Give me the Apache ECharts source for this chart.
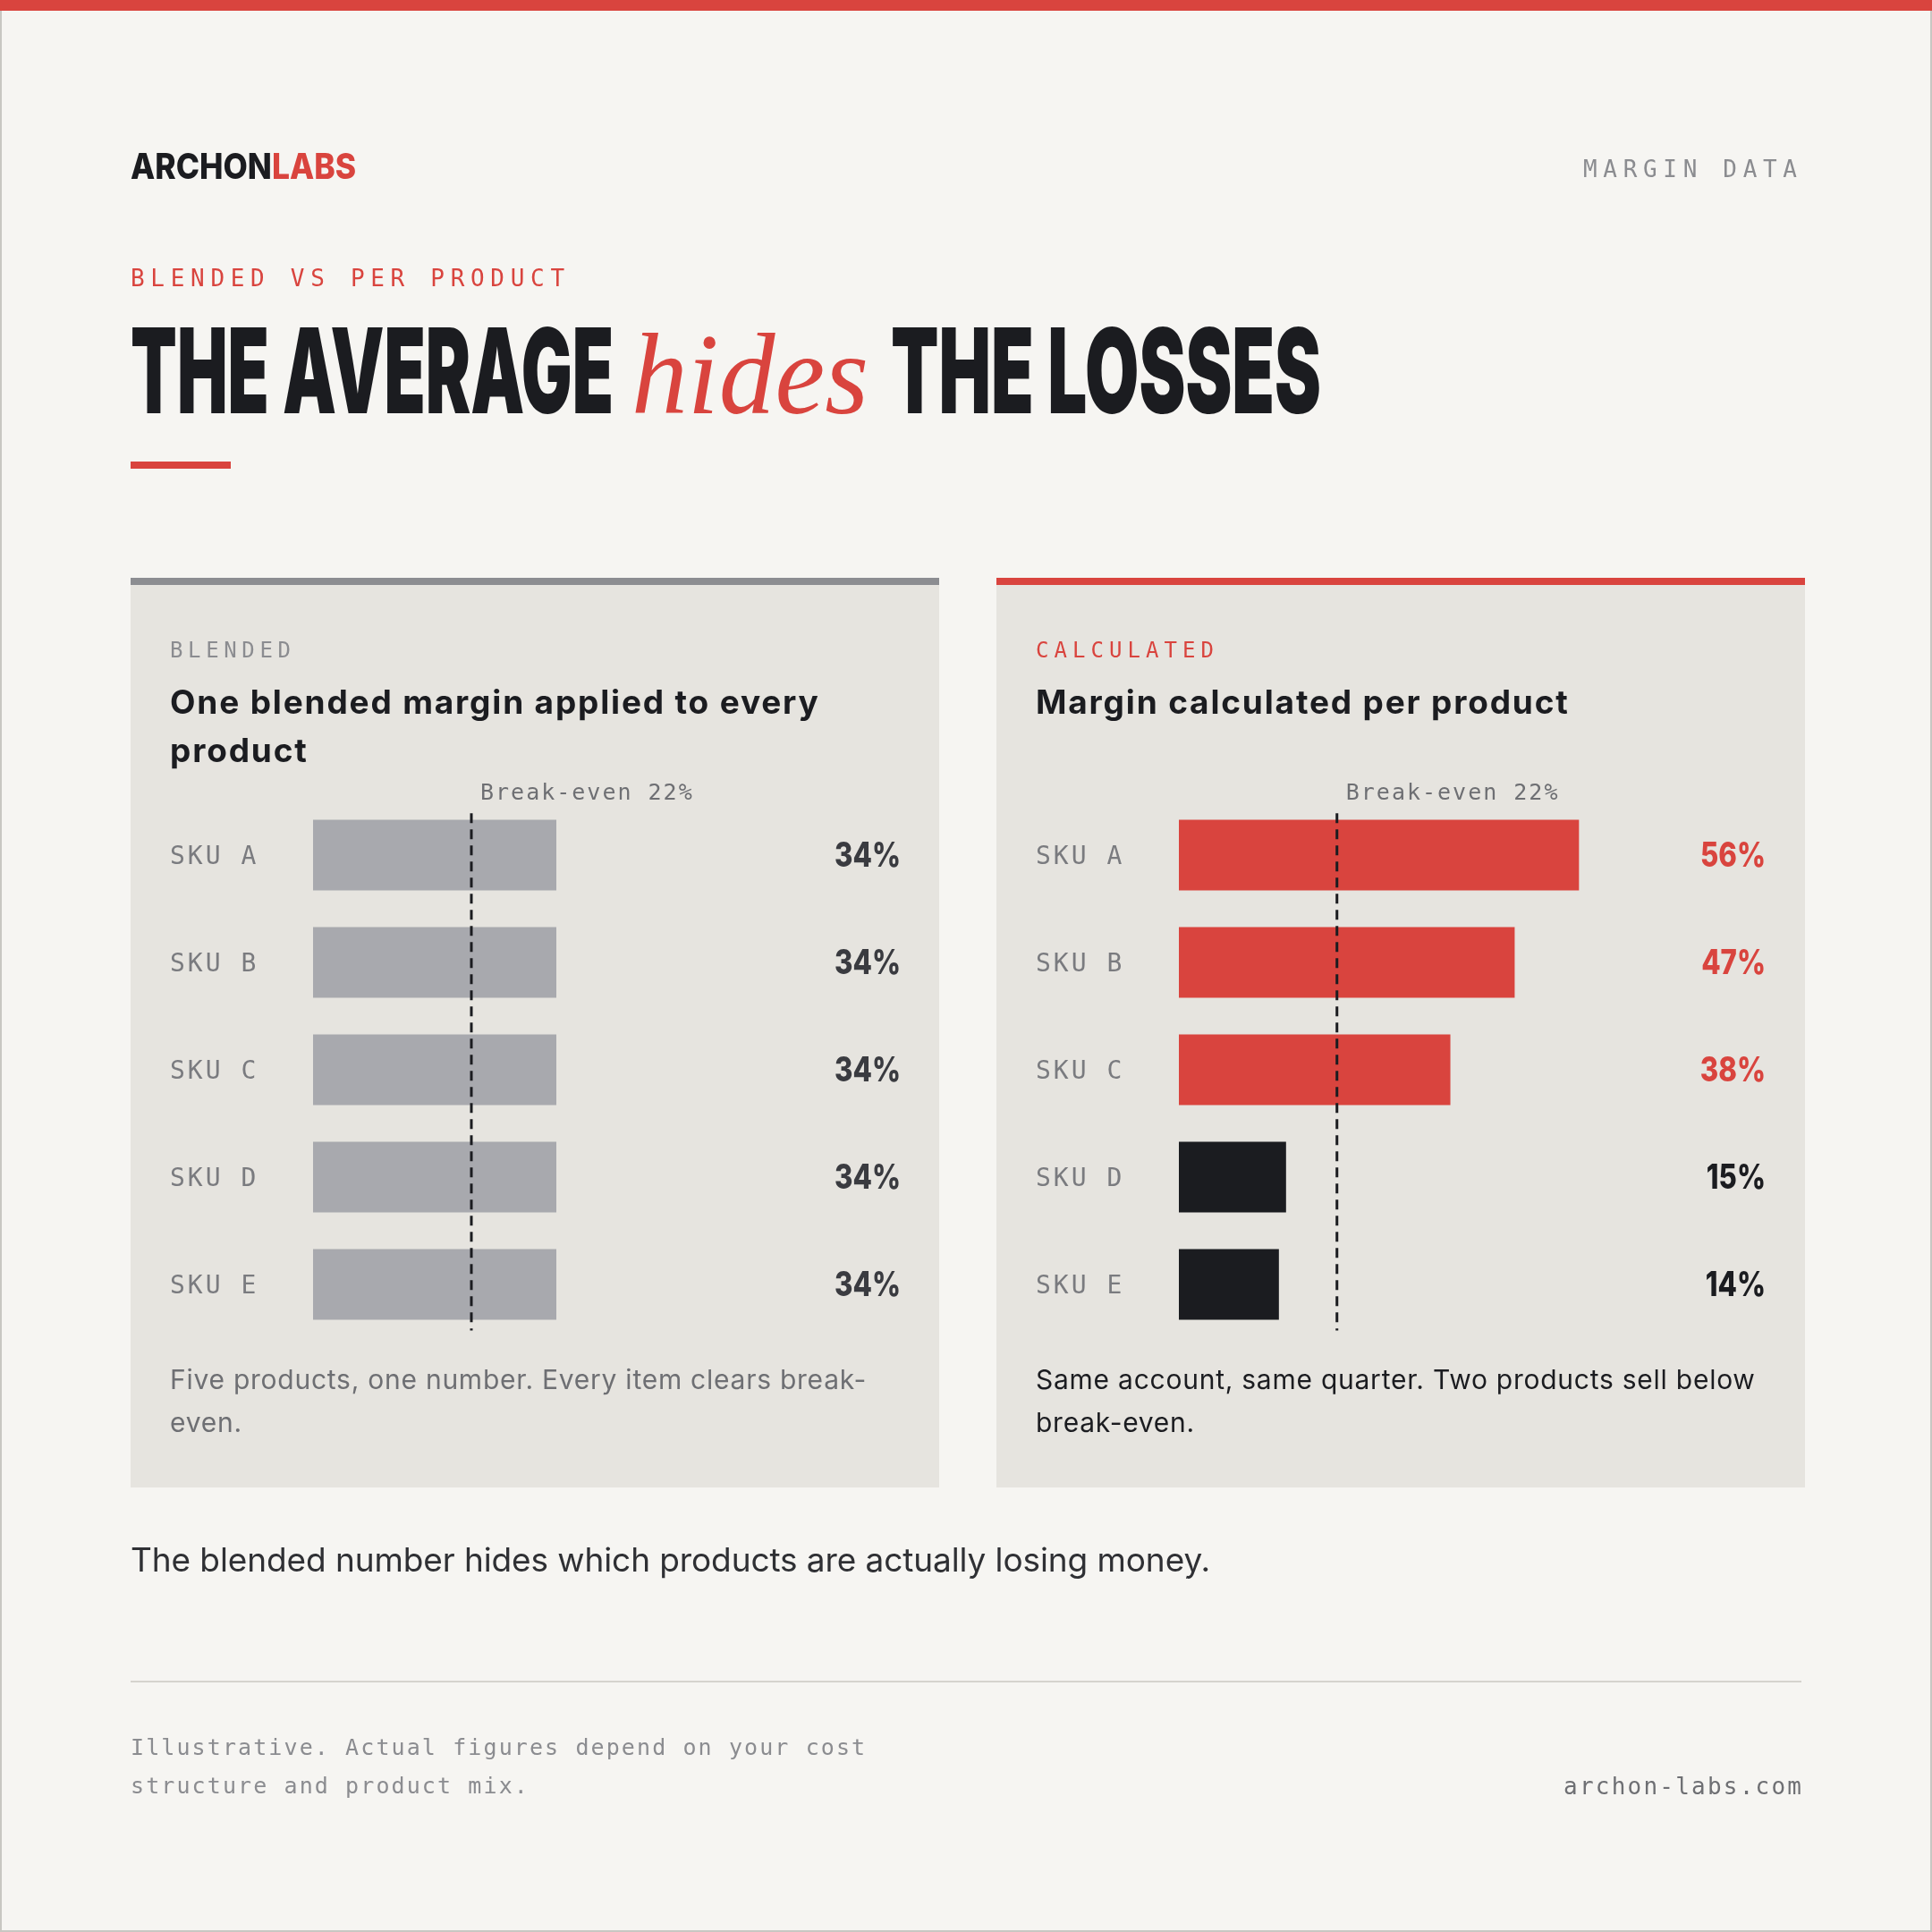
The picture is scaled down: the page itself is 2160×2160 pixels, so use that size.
<!DOCTYPE html>
<html><head><meta charset="utf-8">
<script src="https://cdn.jsdelivr.net/npm/echarts@6/dist/echarts.min.js"></script>
<style>html,body{margin:0;padding:0;background:#F6F5F2}#c{width:2160px;height:2160px}</style>
</head><body><div id="c"></div>
<script>
// ---------- data ----------
const categories = ['SKU A', 'SKU B', 'SKU C', 'SKU D', 'SKU E'];
const blendedMargin = [34, 34, 34, 34, 34];
const perProductMargin = [56, 47, 38, 15, 14];
const breakEven = 22;
const axisMax = 82;

// ---------- letter-spacing support (via font-family token) ----------
(function () {
  const P = CanvasRenderingContext2D.prototype;
  const re = /sp(m?)(\d+)_(\d+)/;
  function lsOf(ctx) { const m = re.exec(ctx.font); return m ? (m[1] ? -1 : 1) * parseFloat(m[2] + '.' + m[3]) : 0; }
  ['fillText', 'strokeText', 'measureText'].forEach(function (fn) {
    const orig = P[fn];
    P[fn] = function () {
      if ('letterSpacing' in this) {
        const want = lsOf(this) + 'px';
        if (this.letterSpacing !== want) this.letterSpacing = want;
      }
      return orig.apply(this, arguments);
    };
  });
})();
function sp(v) { return 'sp' + (v < 0 ? 'm' : '') + Math.abs(v).toFixed(2).replace('.', '_'); }
const mcanvas = document.createElement('canvas');
mcanvas.width = 400; mcanvas.height = 100;
const mctx = mcanvas.getContext('2d');
function textW(t, font) { mctx.font = font; return mctx.measureText(t).width; }

const RED = '#D9443E', DARK = '#1B1C20', MUTED = '#8B8C90', PANEL = '#E6E4DF', BG = '#F6F5F2';
const MONO = "'DejaVu Sans Mono'", SANS = 'Inter', SERIF = "'Liberation Serif'";

const FACES = ['400 30px Inter', '700 37px Inter', '800 40px Inter', '800 38px Inter', '900 132px Inter',
  'italic 400 130px ' + SERIF, '400 26px ' + MONO];
function warm() { FACES.forEach(function (f) { mctx.font = f; mctx.fillText('ABCabc0123%', 0, 50); mctx.measureText('Warm'); }); }
warm();

function fontOf(o) { return (o.italic ? 'italic ' : '') + (o.weight || 400) + ' ' + o.size + 'px ' + o.family; }
function T(text, x, y, o) {
  const base = fontOf(o);
  let font = base, sx = 1;
  if (o.fitLS) { const w = textW(text, base); font = base + ', ' + sp((o.fitLS - w) / (text.length - 1)); }
  else if (o.ls) { font = base + ', ' + sp(o.ls); }
  if (o.fitScale) sx = Math.min(1, o.fitScale / textW(text, base));
  if (o.scale) sx = o.scale;
  return { type: 'text', x: x, y: y, scaleX: sx, silent: true, z: 10,
    style: { text: text, font: font, fill: o.color, align: 'left', verticalAlign: 'middle' } };
}
function R(x, y, w, h, fill, extra) {
  return Object.assign({ type: 'rect', silent: true, shape: { x: x, y: y, width: w, height: h }, style: { fill: fill } }, extra || {});
}

function build() {
  const brandFont = { size: 40, weight: 800, family: SANS };
  const brandScale = Math.min(1, 252 / textW('ARCHONLABS', fontOf(brandFont)));
  const archonW = textW('ARCHON', fontOf(brandFont)) * brandScale;

  const ptBase = fontOf({ size: 37, weight: 700, family: SANS });
  const ptLS = (725 - textW('One blended margin applied to every', ptBase)) / 34;
  const capBase = fontOf({ size: 30, weight: 400, family: SANS });
  const capLS = (804 - textW('Same account, same quarter. Two products sell below', capBase)) / 50;
  const footBase = fontOf({ size: 25, weight: 400, family: MONO });
  const footLS = (821 - textW('Illustrative. Actual figures depend on your cost', footBase)) / 47;

  const graphics = [
    R(0, 0, 2160, 2160, BG, { z: -10 }),
    { type: 'rect', silent: true, z: -9, shape: { x: 1, y: 1, width: 2158, height: 2158 }, style: { fill: 'none', stroke: '#C8C7C2', lineWidth: 2 } },
    R(0, 0, 2160, 12, RED, { z: -8 }),
    T('ARCHON', 146, 188, Object.assign({ color: DARK, scale: brandScale }, brandFont)),
    T('LABS', 146 + archonW, 188, Object.assign({ color: RED, scale: brandScale }, brandFont)),
    T('MARGIN DATA', 1770, 191, { size: 26, family: MONO, color: MUTED, fitLS: 239 }),
    T('BLENDED VS PER PRODUCT', 146, 313, { size: 26, family: MONO, color: RED, fitLS: 485 }),
    T('THE AVERAGE', 146, 422, { size: 132, weight: 900, family: SANS, color: DARK, fitScale: 540 }),
    T('hides', 706, 428, { size: 130, italic: true, weight: 400, family: SERIF, color: RED, fitScale: 265 }),
    T('THE LOSSES', 996, 422, { size: 132, weight: 900, family: SANS, color: DARK, fitScale: 481 }),
    R(146, 516, 112, 8, RED),
    R(146, 646, 904, 1017, PANEL, { z: -5 }),
    R(146, 646, 904, 8, '#8C8D91', { z: -4 }),
    R(1114, 646, 904, 1017, PANEL, { z: -5 }),
    R(1114, 646, 904, 8, RED, { z: -4 }),
    T('BLENDED', 190, 729, { size: 24, family: MONO, color: MUTED, fitLS: 135 }),
    T('CALCULATED', 1158, 729, { size: 24, family: MONO, color: RED, fitLS: 199 }),
    T('One blended margin applied to every', 190, 787, { size: 37, weight: 700, family: SANS, color: DARK, ls: ptLS }),
    T('product', 190, 841, { size: 37, weight: 700, family: SANS, color: DARK, ls: ptLS }),
    T('Margin calculated per product', 1158, 787, { size: 37, weight: 700, family: SANS, color: DARK, ls: ptLS }),
    T('Five products, one number. Every item clears break-', 190, 1544, { size: 30, family: SANS, color: '#6E6F73', ls: capLS }),
    T('even.', 190, 1592, { size: 30, family: SANS, color: '#6E6F73', ls: capLS }),
    T('Same account, same quarter. Two products sell below', 1158, 1544, { size: 30, family: SANS, color: DARK, ls: capLS }),
    T('break-even.', 1158, 1592, { size: 30, family: SANS, color: DARK, ls: capLS }),
    T('The blended number hides which products are actually losing money.', 146, 1746, { size: 37, family: SANS, color: '#2F3034', fitLS: 1207 }),
    R(146, 1879, 1868, 2, '#D5D3CE'),
    T('Illustrative. Actual figures depend on your cost', 146, 1955, { size: 25, family: MONO, color: MUTED, ls: footLS }),
    T('structure and product mix.', 146, 1998, { size: 25, family: MONO, color: MUTED, ls: footLS }),
    T('archon-labs.com', 1748, 1999, { size: 26, family: MONO, color: '#6E6F73', fitLS: 266 })
  ];

  const VAL_FONT = '800 38px ' + SANS;
  const valScale = Math.min(1, 74 / textW('34%', VAL_FONT));
  const BE_FONT = '400 25px ' + MONO + ', ' + sp(2);
  const SKU_FONT = '400 28px ' + MONO + ', ' + sp(3);

  const hidden = { axisLine: { show: false }, axisTick: { show: false }, splitLine: { show: false } };
  function catAxis(gi) {
    return Object.assign({ type: 'category', gridIndex: gi, inverse: true, data: categories, axisLabel: { show: false } }, hidden);
  }
  function rowLabels(gi, values, colorFn) {
    return {
      type: 'custom', xAxisIndex: gi, yAxisIndex: gi, silent: true, z: 5,
      data: values.map(function (v, i) { return [v, i]; }),
      encode: { x: 0, y: 1 },
      renderItem: function (params, api) {
        const v = api.value(0), idx = api.value(1);
        const pr = api.coord([axisMax, idx]);
        const pl = api.coord([0, idx]);
        return { type: 'group', children: [
          { type: 'text', x: pr[0] + 1, y: pr[1] + 2, scaleX: valScale,
            style: { text: v + '%', font: VAL_FONT, fill: colorFn(v), align: 'right', verticalAlign: 'middle' } },
          { type: 'text', x: pl[0] - 160, y: pl[1] + 3,
            style: { text: categories[idx], font: SKU_FONT, fill: '#7A7B7F', align: 'left', verticalAlign: 'middle' } }
        ] };
      }
    };
  }
  function breakEvenLine(gi) {
    return {
      type: 'custom', xAxisIndex: gi, yAxisIndex: gi, silent: true, z: 6,
      data: [[breakEven, 0]],
      encode: { x: 0, y: 1 },
      renderItem: function (params, api) {
        const be = api.value(0);
        const band = api.size([0, 1])[1];
        const first = api.coord([be, 0]);
        const last = api.coord([be, categories.length - 1]);
        const top = first[1] - band * 0.39, bottom = last[1] + band * 0.43;
        return { type: 'group', children: [
          { type: 'line', shape: { x1: first[0] + 1, y1: top, x2: first[0] + 1, y2: bottom },
            style: { stroke: DARK, lineWidth: 3, lineDash: [11, 7] } },
          { type: 'text', x: first[0] + 11, y: top - 22,
            style: { text: 'Break-even ' + be + '%', font: BE_FONT, fill: '#6E6F73', align: 'left', verticalAlign: 'middle' } }
        ] };
      }
    };
  }

  return {
    backgroundColor: BG,
    animation: false,
    graphic: { elements: graphics },
    grid: [
      { left: 350, top: 896, width: 656, height: 600 },
      { left: 1318, top: 896, width: 655, height: 600 }
    ],
    xAxis: [
      Object.assign({ type: 'value', gridIndex: 0, min: 0, max: axisMax, show: false }, hidden),
      Object.assign({ type: 'value', gridIndex: 1, min: 0, max: axisMax, show: false }, hidden)
    ],
    yAxis: [catAxis(0), catAxis(1)],
    series: [
      { type: 'bar', xAxisIndex: 0, yAxisIndex: 0, barWidth: 79, data: blendedMargin,
        itemStyle: { color: '#A8A9AE' } },
      { type: 'bar', xAxisIndex: 1, yAxisIndex: 1, barWidth: 79, data: perProductMargin,
        itemStyle: { color: function (p) { return p.value >= breakEven ? RED : DARK; } } },
      breakEvenLine(0),
      breakEvenLine(1),
      rowLabels(0, blendedMargin, function () { return '#3A3B40'; }),
      rowLabels(1, perProductMargin, function (v) { return v >= breakEven ? RED : DARK; })
    ]
  };
}

const chart = echarts.init(document.getElementById('c'), null, { renderer: 'canvas', width: 2160, height: 2160 });
chart.setOption(build(), true);
</script></body></html>
